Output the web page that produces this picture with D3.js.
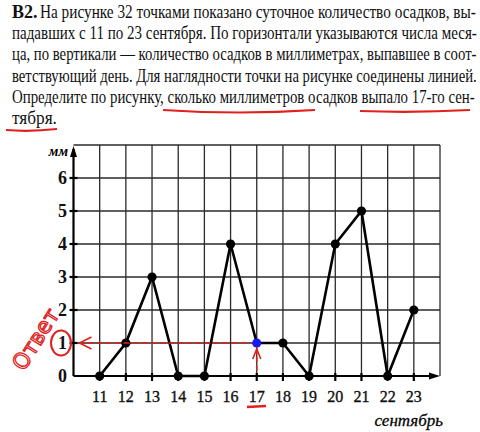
<!DOCTYPE html>
<html><head><meta charset="utf-8">
<script src="https://cdn.jsdelivr.net/npm/d3@7"></script>
<style>body{margin:0;background:#fff}svg{display:block}</style>
</head><body>
<script>
const days = [11,12,13,14,15,16,17,18,19,20,21,22,23];
const precip = [0,1,3,0,0,4,1,1,0,4,5,0,2];
const yTicks = [0,1,2,3,4,5,6];
const gridY = [1,2,3,4,5,6,7];
const gridX = [11,12,13,14,15,16,17,18,19,20,21,22,23,24];
const answerDay = 17;
const textLines = [
  "На рисунке 32 точками показано суточное количество осадков, вы-",
  "падавших с 11 по 23 сентября. По горизонтали указываются числа меся-",
  "ца, по вертикали — количество осадков в миллиметрах, выпавшее в соот-",
  "ветствующий день. Для наглядности точки на рисунке соединены линией.",
  "Определите по рисунку, сколько миллиметров осадков выпало 17-го сен-",
  "тября."
];

const W = 480, H = 432;
const svg = d3.select("body").append("svg").attr("width", W).attr("height", H);
const serif = "'Liberation Serif','DejaVu Serif',serif";

// problem text: each line squeezed horizontally to its printed width
const tg = svg.append("g").attr("font-family", serif).attr("font-size", 18).attr("fill", "#111");
function fitLine(str, x0, y0, width, bold) {
  const g = tg.append("g");
  const t = g.append("text").attr("x", 0).attr("y", 0).text(str);
  if (bold) t.attr("font-weight", "bold");
  const nat = t.node().getComputedTextLength();
  const s = width ? Math.min(1, width / nat) : 0.88;
  g.attr("transform", `translate(${x0},${y0}) scale(${s},1)`);
}
textLines.forEach((t, i) => {
  const y = 18 + i * 21.2;
  if (i === 0) {
    fitLine("B2.", 12, y, 26, true);
    fitLine(t, 40, y, 436);
  } else if (i === textLines.length - 1) {
    fitLine(t, 12, y, 45);
  } else {
    fitLine(t, 12, y, i === 4 ? 463 : 465);
  }
});
const red = "#e0201c";
svg.append("path").attr("d", "M163,110 Q240,115 315,110").attr("stroke", red).attr("stroke-width", 2.2).attr("fill", "none");
svg.append("path").attr("d", "M360,111 Q415,113 470,110").attr("stroke", red).attr("stroke-width", 2.2).attr("fill", "none");
svg.append("path").attr("d", "M6,130 Q30,132 57,129").attr("stroke", red).attr("stroke-width", 2.2).attr("fill", "none");

// chart
const x = d3.scaleLinear().domain([10, 24]).range([73.5, 440]);
const y = d3.scaleLinear().domain([0, 7]).range([376, 145]);

const grid = svg.append("g").attr("stroke", "#2a2a2a").attr("stroke-width", 1.3);
grid.selectAll(".gx").data(gridX).join("line")
  .attr("x1", d => x(d)).attr("x2", d => x(d)).attr("y1", y(7)).attr("y2", y(0));
grid.selectAll(".gy").data(gridY).join("line")
  .attr("x1", x(10)).attr("x2", x(24)).attr("y1", d => y(d)).attr("y2", d => y(d));

// axes
const ax = svg.append("g").attr("stroke", "#000").attr("stroke-width", 2.2);
ax.append("line").attr("x1", x(10)).attr("x2", x(10)).attr("y1", y(0)).attr("y2", y(7) + 4);
ax.append("line").attr("x1", x(10)).attr("x2", x(24) - 4).attr("y1", y(0)).attr("y2", y(0));
svg.append("path").attr("fill", "#000")
  .attr("d", `M${x(10)},${y(7)+1} L${x(10)-3.5},${y(7)+12} L${x(10)+3.5},${y(7)+12} Z`);
svg.append("path").attr("fill", "#000")
  .attr("d", `M${x(24)},${y(0)} L${x(24)-11},${y(0)-3.5} L${x(24)-11},${y(0)+3.5} Z`);

// ticks
ax.selectAll(".ty").data(yTicks.filter(d => d > 0)).join("line")
  .attr("x1", x(10) - 4).attr("x2", x(10) + 4).attr("y1", d => y(d)).attr("y2", d => y(d));
ax.selectAll(".tx").data(days).join("line")
  .attr("x1", d => x(d)).attr("x2", d => x(d)).attr("y1", y(0) - 3).attr("y2", y(0) + 5);

// tick labels
svg.append("g").attr("font-family", serif).attr("font-size", 18).attr("font-weight", "bold")
  .attr("text-anchor", "end").attr("fill", "#111")
  .selectAll("text").data(yTicks).join("text")
  .attr("x", 67).attr("y", d => y(d) + 6).text(d => d);
svg.append("g").attr("font-family", serif).attr("font-size", 16).attr("text-anchor", "middle")
  .attr("fill", "#111").attr("stroke", "#111").attr("stroke-width", 0.35)
  .selectAll("text").data(days).join("text")
  .attr("x", d => x(d)).attr("y", 402).text(d => d);
svg.append("text").attr("x", 68).attr("y", 156).attr("text-anchor", "end")
  .attr("font-family", serif).attr("font-style", "italic").attr("font-weight", "bold")
  .attr("font-size", 14).text("мм");
svg.append("text").attr("x", 443).attr("y", 426).attr("text-anchor", "end")
  .attr("font-family", serif).attr("font-style", "italic").attr("font-size", 17)
  .attr("stroke", "#111").attr("stroke-width", 0.3).text("сентябрь");

// data line
const pts = days.map((d, i) => [d, precip[i]]);
svg.append("path").datum(pts)
  .attr("d", d3.line().x(d => x(d[0])).y(d => y(d[1])))
  .attr("fill", "none").attr("stroke", "#000").attr("stroke-width", 2.6).attr("stroke-linejoin", "miter");
svg.selectAll(".pt").data(pts).join("circle")
  .attr("cx", d => x(d[0])).attr("cy", d => y(d[1])).attr("r", 4.6)
  .attr("fill", d => d[0] === answerDay ? "#1a1aee" : "#000");

// red annotations
const av = precip[days.indexOf(answerDay)];
const ann = svg.append("g").attr("stroke", red).attr("fill", "none").attr("stroke-width", 1.6);
ann.append("line").attr("x1", x(10) + 5).attr("x2", x(answerDay) - 6).attr("y1", y(av)).attr("y2", y(av))
  .attr("stroke-dasharray", "6,3");
ann.append("path").attr("d", `M${x(10)+18},${y(av)-6} L${x(10)+6},${y(av)} L${x(10)+18},${y(av)+6}`);
ann.append("line").attr("x1", x(answerDay)).attr("x2", x(answerDay)).attr("y1", y(av) + 6).attr("y2", y(0) - 4)
  .attr("stroke-dasharray", "5,3");
ann.append("path").attr("d", `M${x(answerDay)-4},${y(av)+16} L${x(answerDay)},${y(av)+6} L${x(answerDay)+4},${y(av)+16}`);
ann.append("ellipse").attr("cx", 61).attr("cy", y(av)).attr("rx", 10).attr("ry", 12.5).attr("stroke-width", 2);
ann.append("line").attr("x1", 247).attr("x2", 266).attr("y1", 407).attr("y2", 406).attr("stroke-width", 2.6);
svg.append("text").attr("transform", "translate(24,372) rotate(-58)")
  .attr("font-family", "'DejaVu Sans',sans-serif").attr("font-size", 22).attr("fill", "none")
  .attr("stroke", red).attr("stroke-width", 1.3)
  .attr("textLength", 68).attr("lengthAdjust", "spacingAndGlyphs").text("Ответ");
</script>
</body></html>
